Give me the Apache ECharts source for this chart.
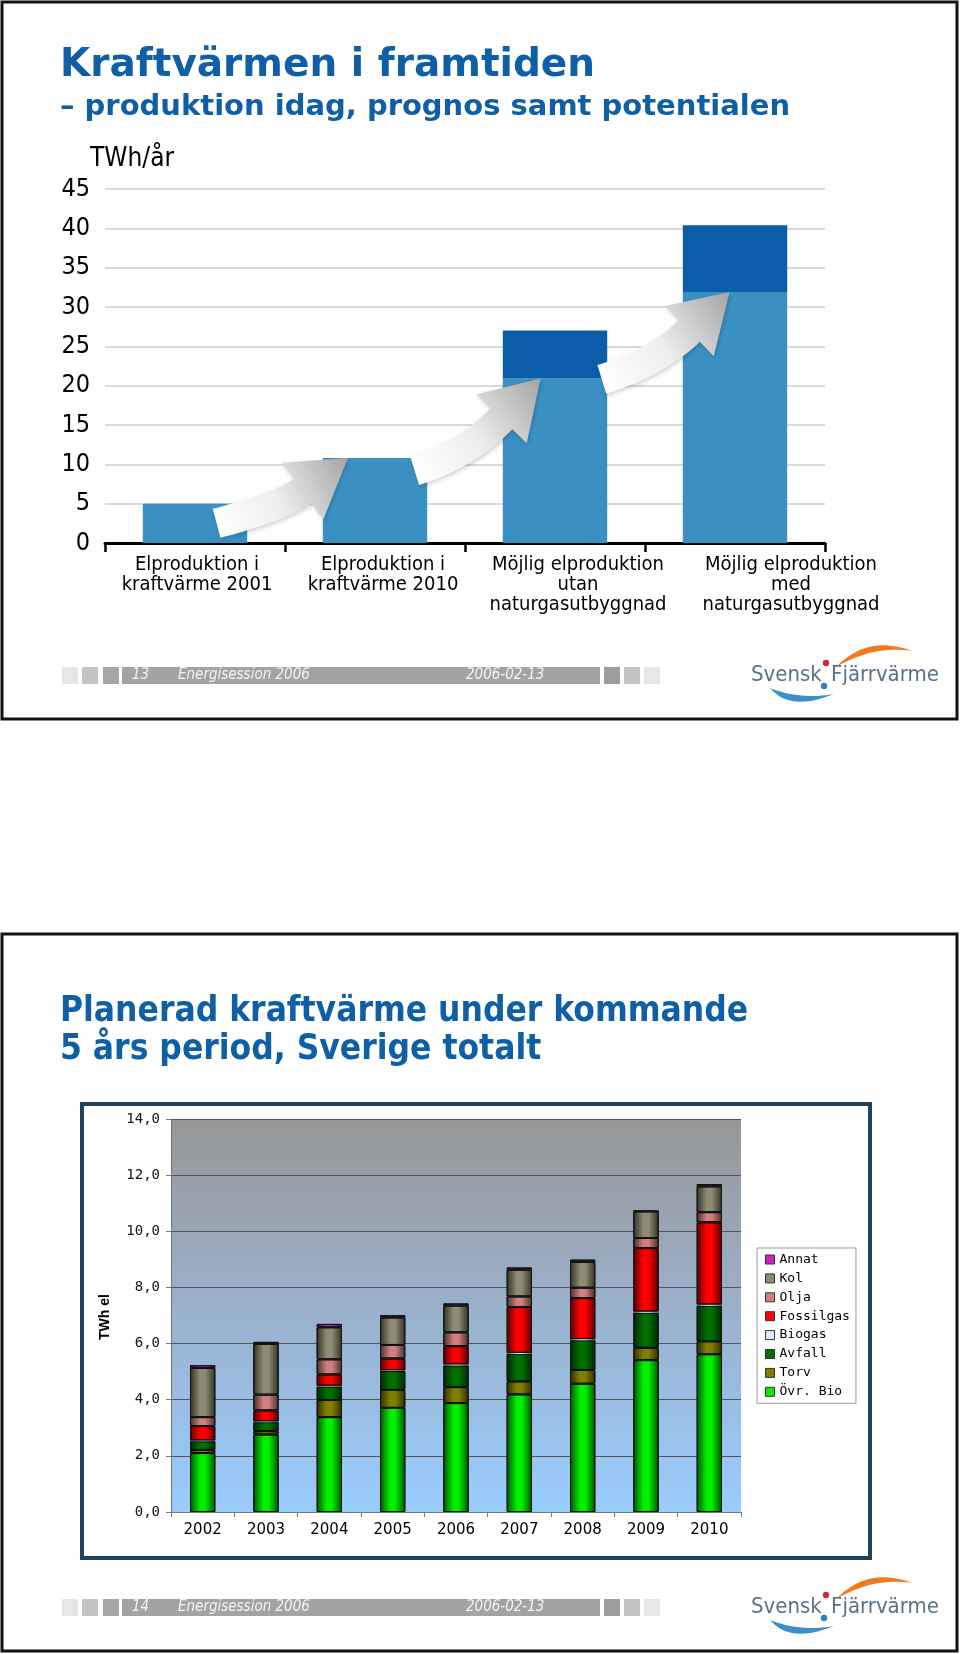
<!DOCTYPE html>
<html><head><meta charset="utf-8">
<script src="https://cdn.jsdelivr.net/npm/echarts@6/dist/echarts.min.js"></script>
<style>html,body{margin:0;padding:0;background:#fff}#c{width:960px;height:1654px}</style>
</head><body><div id="c"></div>
<script>
// ---------- data: slide 13 ----------
const topCategories = ['Elproduktion i\nkraftvärme 2001', 'Elproduktion i\nkraftvärme 2010', 'Möjlig elproduktion\nutan\nnaturgasutbyggnad', 'Möjlig elproduktion\nmed\nnaturgasutbyggnad'];
const topBase  = [5.0, 10.8, 20.9, 31.9];
const topExtra = [0, 0, 6.1, 8.5];
const topMin = 0, topMax = 45, topStep = 5;

// ---------- data: slide 14 ----------
const years     = ['2002', '2003', '2004', '2005', '2006', '2007', '2008', '2009', '2010'];
const ovrBio    = [2.10, 2.76, 3.38, 3.71, 3.88, 4.19, 4.57, 5.41, 5.62];
const torv      = [0.11, 0.12, 0.61, 0.64, 0.57, 0.46, 0.49, 0.44, 0.46];
const avfall    = [0.31, 0.32, 0.48, 0.67, 0.77, 0.98, 1.06, 1.25, 1.27];
const biogas    = [0.03, 0.03, 0.03, 0.03, 0.04, 0.04, 0.04, 0.04, 0.04];
const fossilgas = [0.51, 0.39, 0.40, 0.42, 0.65, 1.63, 1.46, 2.26, 2.93];
const olja      = [0.32, 0.56, 0.54, 0.48, 0.49, 0.38, 0.37, 0.36, 0.36];
const kol       = [1.75, 1.81, 1.14, 0.98, 0.95, 0.95, 0.92, 0.95, 0.92];
const annat     = [0.10, 0.07, 0.12, 0.08, 0.08, 0.08, 0.08, 0.02, 0.08];
const botMin = 0, botMax = 14, botStep = 2;

// ---------- helpers ----------
const chart = echarts.init(document.getElementById('c'), null, {renderer: 'canvas'});
const BLUE_T = '#0F5FA6';
const COND = '"DejaVu Sans Condensed", "DejaVu Sans", sans-serif';
const MONO = '"DejaVu Sans Mono", monospace';
function shade(hex, f) {
  const n = parseInt(hex.slice(1), 16);
  const r = (n >> 16) & 255, g = (n >> 8) & 255, b = n & 255;
  return 'rgb(' + Math.round(r * f) + ',' + Math.round(g * f) + ',' + Math.round(b * f) + ')';
}
function cyl(c) {
  return new echarts.graphic.LinearGradient(0, 0, 1, 0, [
    {offset: 0, color: shade(c, 0.35)}, {offset: 0.4, color: c},
    {offset: 0.6, color: c}, {offset: 1, color: shade(c, 0.35)}]);
}
function qpts(a, c, b, n) {
  const out = [];
  for (let k = 0; k <= n; k++) {
    const t = k / n;
    out.push([(1 - t) * (1 - t) * a[0] + 2 * (1 - t) * t * c[0] + t * t * b[0],
              (1 - t) * (1 - t) * a[1] + 2 * (1 - t) * t * c[1] + t * t * b[1]]);
  }
  return out;
}
function crescent(a, c1, b, c2, dy) {
  const p = qpts(a, c1, b, 16).concat(qpts(b, c2, a, 16));
  return p.map(q => [q[0], q[1] + dy]);
}
function footer(dy, num) {
  const y = 667 + dy, h = 17;
  const els = [];
  const boxes = [[62, 16, '#E6E6E6'], [82, 16, '#C4C4C4'], [103, 16, '#A6A6A6'], [122, 478, '#A3A3A3'],
                 [604, 16, '#9E9E9E'], [624, 16, '#C4C4C4'], [644, 16, '#E6E6E6']];
  boxes.forEach(b => els.push({type: 'rect', shape: {x: b[0], y: y, width: b[1], height: h}, style: {fill: b[2]}, z: 1}));
  const ts = {fill: '#F4F4F4', font: 'italic 15px ' + COND, textVerticalAlign: 'middle'};
  els.push({type: 'text', style: Object.assign({text: String(num), x: 132, y: y + h / 2}, ts), z: 2});
  els.push({type: 'text', style: Object.assign({text: 'Energisession 2006', x: 178, y: y + h / 2}, ts), z: 2});
  els.push({type: 'text', style: Object.assign({text: '2006-02-13', x: 466, y: y + h / 2}, ts), z: 2});
  // logo
  const lf = '22px ' + COND;
  els.push({type: 'text', style: {text: 'Svensk', x: 751, y: 675 + dy, font: lf, fill: '#5C7086', textVerticalAlign: 'middle'}, z: 2});
  els.push({type: 'text', style: {text: 'Fjärrvärme', x: 831, y: 675 + dy, font: lf, fill: '#5C7086', textVerticalAlign: 'middle'}, z: 2});
  els.push({type: 'polygon', shape: {points: crescent([836, 667], [868, 634], [912, 651], [874, 645], dy)}, style: {fill: '#F07A1E'}, z: 2});
  els.push({type: 'polygon', shape: {points: crescent([770, 688], [790, 712], [834, 694], [800, 700], dy)}, style: {fill: '#3C8FC8'}, z: 2});
  els.push({type: 'circle', shape: {cx: 826, cy: 663 + dy, r: 3.2}, style: {fill: '#D8262E'}, z: 2});
  els.push({type: 'circle', shape: {cx: 824, cy: 686 + dy, r: 3.2}, style: {fill: '#2E7FC0'}, z: 2});
  return els;
}

const baseGraphic = [
  {type: 'rect', shape: {x: 2, y: 2, width: 955, height: 717}, style: {fill: '#fff', stroke: '#111', lineWidth: 3}, z: -10},
  {type: 'rect', shape: {x: 2, y: 934, width: 955, height: 717}, style: {fill: '#fff', stroke: '#111', lineWidth: 3}, z: -10},
  {type: 'text', style: {text: 'Kraftvärmen i framtiden', x: 60, y: 66, font: 'bold 39px "DejaVu Sans", sans-serif', fill: BLUE_T, textVerticalAlign: 'middle'}, z: 2},
  {type: 'text', style: {text: '– produktion idag, prognos samt potentialen', x: 60, y: 107, font: 'bold 29px "DejaVu Sans", sans-serif', fill: BLUE_T, textVerticalAlign: 'middle'}, z: 2},
  {type: 'text', style: {text: 'TWh/år', x: 90, y: 159, font: '26px ' + COND, fill: '#000', textVerticalAlign: 'middle'}, z: 2},
  {type: 'text', style: {text: 'Planerad kraftvärme under kommande', x: 60, y: 1012, font: 'bold 35px ' + COND, fill: BLUE_T, textVerticalAlign: 'middle'}, z: 2},
  {type: 'text', style: {text: '5 års period, Sverige totalt', x: 60, y: 1050, font: 'bold 35px ' + COND, fill: BLUE_T, textVerticalAlign: 'middle'}, z: 2},
  {type: 'rect', shape: {x: 82, y: 1104, width: 788, height: 454}, style: {fill: '#fff', stroke: '#23425E', lineWidth: 4}, z: -5},
  {type: 'text', rotation: Math.PI / 2, x: 105, y: 1317, style: {text: 'TWh el', font: 'bold 14px "Liberation Sans", Arial, sans-serif', fill: '#000', textAlign: 'center', textVerticalAlign: 'middle'}, z: 2}
].concat(footer(0, 13), footer(932, 14));

const botSeries = [
  ['Övr. Bio', ovrBio, '#00F000'], ['Torv', torv, '#808000'], ['Avfall', avfall, '#007000'],
  ['Biogas', biogas, '#D8ECFF'], ['Fossilgas', fossilgas, '#FF0000'], ['Olja', olja, '#D08080'],
  ['Kol', kol, '#8E8C72'], ['Annat', annat, '#CC22CC']
];

// label shifts of the first chart's category texts (as on the slide)
const labelShift = [2, 8, 23, 56];
const topRich = {};
labelShift.forEach((s, i) => {
  topRich['p' + i] = {fontSize: 20, lineHeight: 20, color: '#000', fontFamily: COND, padding: [0, 0, 0, 2 * s]};
});

const option = {
  animation: false,
  grid: [
    {left: 105, right: 135, top: 189, bottom: 1111},
    {left: 171, right: 219, top: 1119, bottom: 142, show: true, borderWidth: 0,
     backgroundColor: new echarts.graphic.LinearGradient(0, 0, 0, 1, [
       {offset: 0, color: '#969696'}, {offset: 0.45, color: '#9AAFC8'}, {offset: 1, color: '#99CCFF'}])}
  ],
  legend: {
    orient: 'vertical', left: 757, top: 1248, itemWidth: 9, itemHeight: 9, itemGap: 5.9, itemTextGap: 6,
    padding: [5, 6, 5, 8], borderColor: '#999', borderWidth: 1, backgroundColor: '#fff',
    textStyle: {fontSize: 13, color: '#000', fontFamily: MONO},
    data: ['Annat', 'Kol', 'Olja', 'Fossilgas', 'Biogas', 'Avfall', 'Torv', 'Övr. Bio'].map(n => {
      const s = botSeries.find(x => x[0] === n);
      return {name: n, icon: 'rect', itemStyle: {color: s[2], borderColor: '#333', borderWidth: 1}};
    })
  },
  xAxis: [
    {type: 'category', gridIndex: 0, data: topCategories,
     axisLine: {lineStyle: {color: '#000', width: 3}},
     axisTick: {show: true, length: 9, lineStyle: {color: '#000', width: 2.5}},
     axisLabel: {fontSize: 20, lineHeight: 20, color: '#000', margin: 12, interval: 0, fontFamily: COND,
                 formatter: (v, i) => v.split('\n').map(l => '{p' + i + '|' + l + '}').join('\n'),
                 rich: topRich}},
    {type: 'category', gridIndex: 1, data: years,
     axisLine: {lineStyle: {color: '#777', width: 1}},
     axisTick: {show: true, length: 5, lineStyle: {color: '#777'}},
     axisLabel: {fontSize: 15, color: '#000', margin: 11, fontFamily: '"DejaVu Sans", Verdana, sans-serif'}}
  ],
  yAxis: [
    {type: 'value', gridIndex: 0, min: topMin, max: topMax, interval: topStep,
     axisLine: {show: false}, axisTick: {show: false},
     splitLine: {lineStyle: {color: '#CDCDCD', width: 1.5}},
     axisLabel: {fontSize: 25, color: '#000', margin: 15, fontFamily: COND}},
    {type: 'value', gridIndex: 1, min: botMin, max: botMax, interval: botStep,
     axisLine: {show: true, lineStyle: {color: '#777'}}, axisTick: {show: true, length: 5, lineStyle: {color: '#777'}},
     splitLine: {lineStyle: {color: '#555', width: 1}},
     axisLabel: {fontSize: 14, color: '#111', margin: 11, fontFamily: MONO,
                 formatter: v => v.toFixed(1).replace('.', ',')}}
  ],
  series: [
    {type: 'bar', name: 'base', xAxisIndex: 0, yAxisIndex: 0, stack: 'top', data: topBase, barWidth: '58%',
     itemStyle: {color: '#3A90C3'}},
    {type: 'bar', name: 'extra', xAxisIndex: 0, yAxisIndex: 0, stack: 'top', data: topExtra, barWidth: '58%',
     itemStyle: {color: '#0A5DA8'}}
  ].concat(botSeries.map(s => ({
    type: 'bar', name: s[0], xAxisIndex: 1, yAxisIndex: 1, stack: 'bot', data: s[1], barWidth: '40%',
    itemStyle: {color: cyl(s[2]), borderColor: s[0] === 'Biogas' ? '#E8F4FF' : '#111', borderWidth: s[0] === 'Biogas' ? 0 : 1}
  }))),
  graphic: baseGraphic
};
chart.setOption(option);

// ---------- decorative arrows between bars (positioned from the data via the axes) ----------
function px(i, v) { return chart.convertToPixel({xAxisIndex: 0, yAxisIndex: 0}, [i, v]); }
function arrowPoly(T, P, a0, a1) {
  const headLen = 56, headW = 70, w0 = 30, w1 = 30;
  const dir = [Math.cos(a1), -Math.sin(a1)];
  const d0 = [Math.cos(a0), -Math.sin(a0)];
  const B = [P[0] - dir[0] * headLen, P[1] - dir[1] * headLen];
  const det = d0[0] * (-dir[1]) - d0[1] * (-dir[0]);
  let K;
  if (Math.abs(det) > 1e-6) {
    const rx = B[0] - T[0], ry = B[1] - T[1];
    const s = (rx * (-dir[1]) - ry * (-dir[0])) / det;
    K = [T[0] + d0[0] * s, T[1] + d0[1] * s];
  } else {
    K = [(T[0] + B[0]) / 2, (T[1] + B[1]) / 2];
  }
  const left = [], right = [];
  const N = 24;
  for (let k = 0; k <= N; k++) {
    const t = k / N;
    const x = (1 - t) * (1 - t) * T[0] + 2 * (1 - t) * t * K[0] + t * t * B[0];
    const y = (1 - t) * (1 - t) * T[1] + 2 * (1 - t) * t * K[1] + t * t * B[1];
    let tx = 2 * (1 - t) * (K[0] - T[0]) + 2 * t * (B[0] - K[0]);
    let ty = 2 * (1 - t) * (K[1] - T[1]) + 2 * t * (B[1] - K[1]);
    const L = Math.hypot(tx, ty) || 1; tx /= L; ty /= L;
    const nx = -ty, ny = tx;
    const w = (w0 + (w1 - w0) * t) / 2;
    left.push([x + nx * w, y + ny * w]);
    right.push([x - nx * w, y - ny * w]);
  }
  const nx = -dir[1], ny = dir[0];
  return left.concat([[B[0] + nx * headW / 2, B[1] + ny * headW / 2], P, [B[0] - nx * headW / 2, B[1] - ny * headW / 2]])
    .concat(right.reverse());
}
const c0 = px(0, 0), c1 = px(1, 0);
const cw = c1[0] - c0[0];
const arrowDefs = [
  // [fromBar, tail offset (x of cw), tail value, toBar, tip offset, start angle, head angle]
  [0, 0.12, 2.5, 1, -0.15, 0.26, 0.63],
  [1, 0.22, 9.2, 2, -0.08, 0.30, 0.80],
  [2, 0.26, 20.8, 3, -0.03, 0.30, 0.77]
];
const arrows = arrowDefs.map(a => {
  const tb = px(a[0], a[2]);
  const T = [tb[0] + a[1] * cw, tb[1]];
  const pb = px(a[3], topBase[a[3]]);
  const P = [pb[0] + a[4] * cw, pb[1]];
  return {
    type: 'polygon', z: 20, shape: {points: arrowPoly(T, P, a[5], a[6])},
    style: {
      fill: new echarts.graphic.LinearGradient(T[0], T[1], P[0], P[1], [
        {offset: 0, color: '#FFFFFF'}, {offset: 0.45, color: '#EDEDED'}, {offset: 1, color: '#A4A4A4'}], true),
      shadowBlur: 4, shadowColor: 'rgba(0,0,0,0.18)', shadowOffsetX: 1, shadowOffsetY: 2
    }
  };
});
chart.setOption({graphic: baseGraphic.concat(arrows)});
</script></body></html>
